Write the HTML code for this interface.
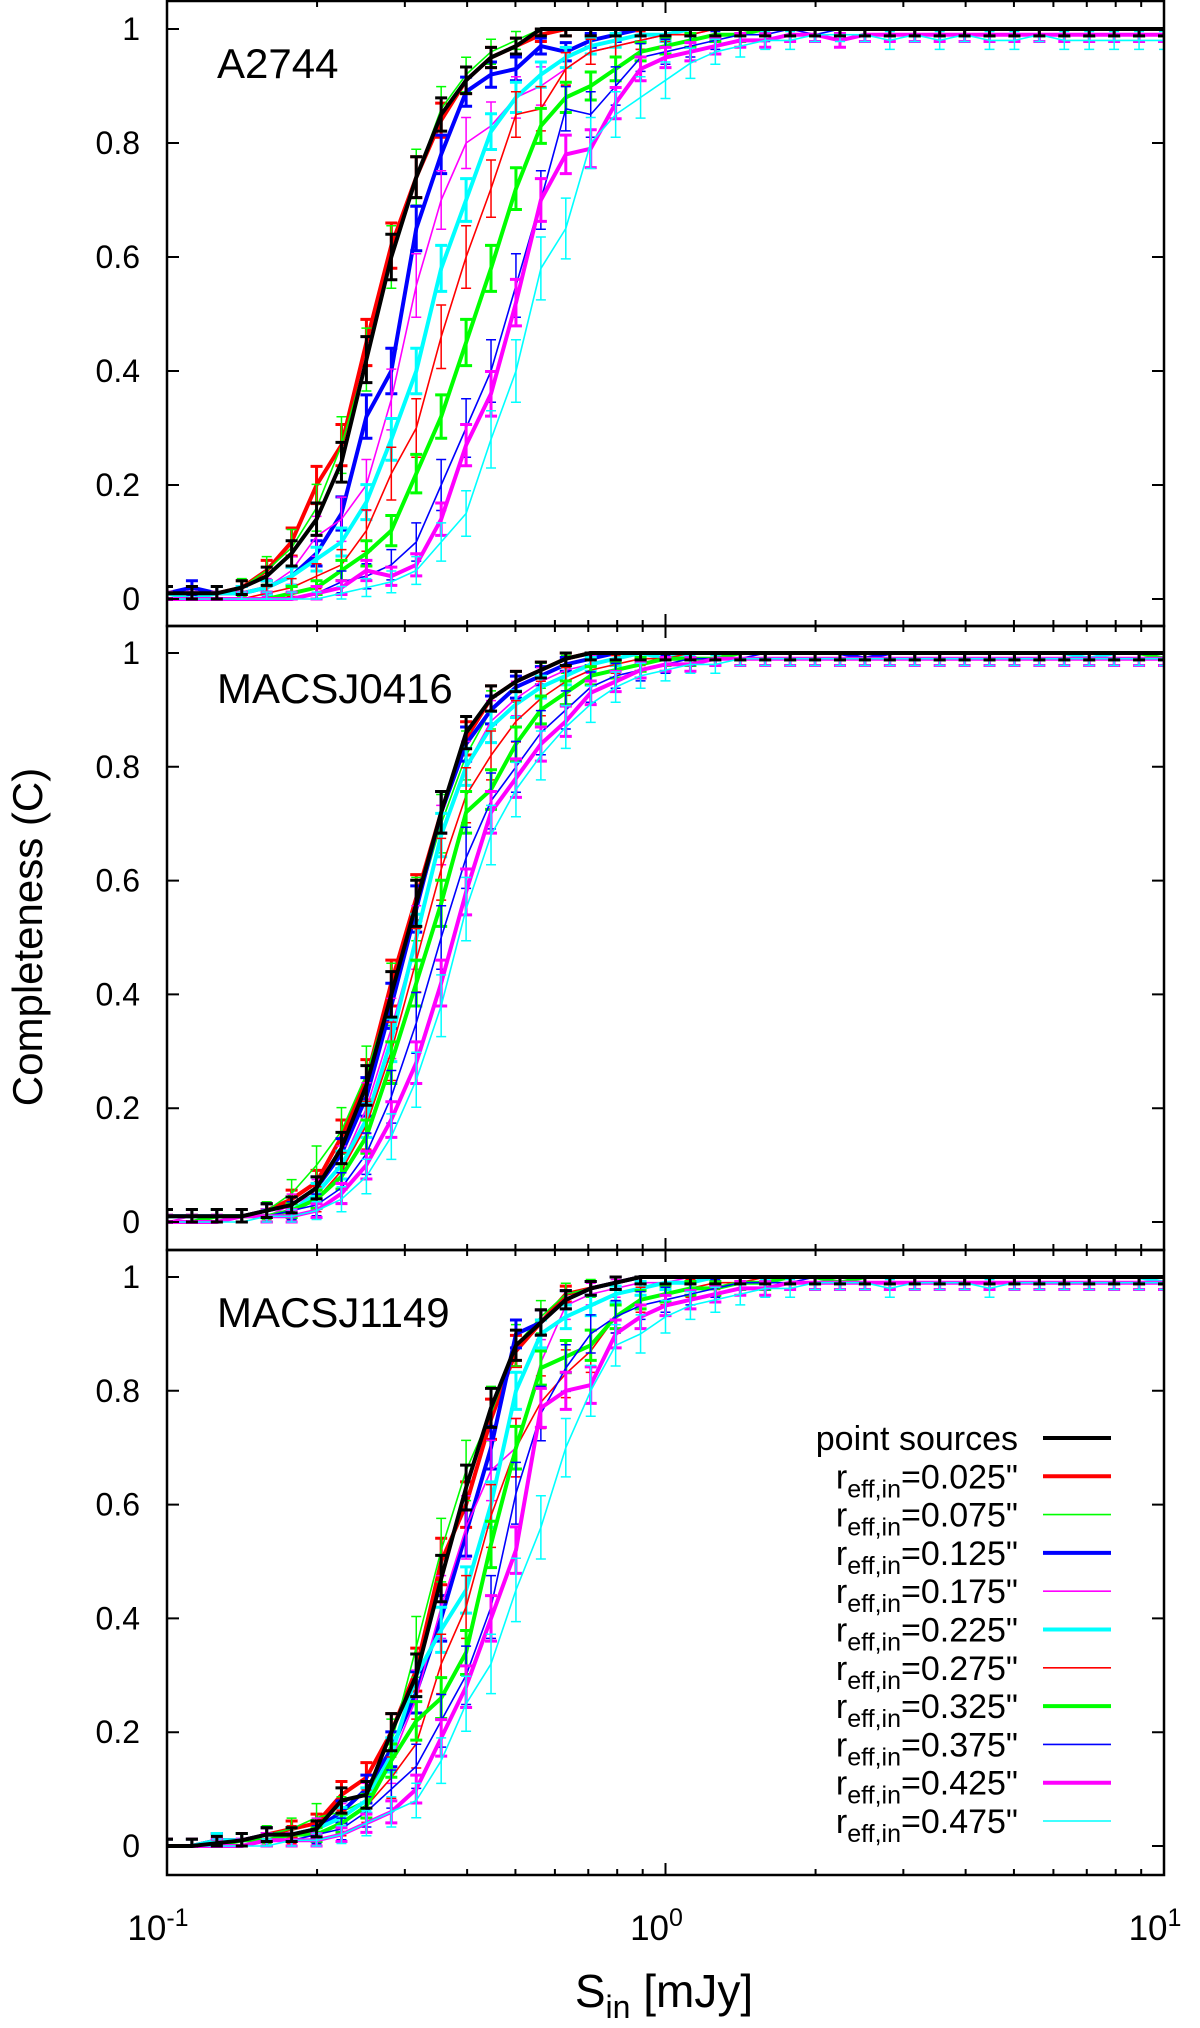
<!DOCTYPE html>
<html><head><meta charset="utf-8"><style>
html,body{margin:0;padding:0;background:#fff;}
svg{display:block;font-family:"Liberation Sans",Arial,sans-serif;}
</style></head><body>
<svg id="chart" width="1200" height="2028" viewBox="0 0 1200 2028" xmlns="http://www.w3.org/2000/svg">
<text transform="translate(42,937) rotate(-90)" font-size="42" text-anchor="middle">Completeness (C)</text>
<text x="664" y="2007" font-size="46" text-anchor="middle">S<tspan font-size="32" dy="11">in</tspan><tspan dy="-11"> [mJy]</tspan></text>
<g id="root"></g>
</svg>
<script>
// log10(S) grid: -1 .. 1 in steps of 0.05
const logGrid = [-1,-0.95,-0.9,-0.85,-0.8,-0.75,-0.7,-0.65,-0.6,-0.55,-0.5,-0.45,-0.4,-0.35,-0.3,-0.25,-0.2,-0.15,-0.1,-0.05,0,0.05,0.1,0.15,0.2,0.25,0.3,0.35,0.4,0.45,0.5,0.55,0.6,0.65,0.7,0.75,0.8,0.85,0.9,0.95,1];
const seriesLabels = ['point sources','0.025','0.075','0.125','0.175','0.225','0.275','0.325','0.375','0.425','0.475'];
const panelNames = ['A2744','MACSJ0416','MACSJ1149'];
const yTicks = [0,0.2,0.4,0.6,0.8,1];
const yTickLabels = ['0','0.2','0.4','0.6','0.8','1'];
const xMajor = [-1,0,1];
const xMajorLabels = ['-1','0','1'];

// Panel 1: A2744
const p1_ps   = [0.01,0.01,0.01,0.02,0.04,0.08,0.14,0.24,0.42,0.60,0.74,0.85,0.91,0.95,0.97,1,1,1,1,1, 1,1,1,1,1,1,1,1,1,1,1,1,1,1,1,1,1,1,1,1,1];
const p1_025  = [0.01,0.01,0.01,0.02,0.05,0.10,0.20,0.27,0.45,0.62,0.74,0.84,0.91,0.95,0.97,0.99,1,1,1,1, 1,1,1,1,1,1,1,1,1,1,1,1,1,1,1,1,1,1,1,1,1];
const p1_075  = [0.01,0.01,0.01,0.02,0.05,0.09,0.16,0.27,0.42,0.60,0.74,0.86,0.92,0.96,0.98,1,1,1,1,1, 1,1,1,1,1,1,1,1,1,1,1,1,1,1,1,1,1,1,1,1,1];
const p1_125  = [0.01,0.02,0.01,0.01,0.02,0.04,0.08,0.15,0.32,0.40,0.65,0.78,0.89,0.92,0.93,0.97,0.96,0.98,0.99,1, 1,1,1,1,1,1,1,1,1,1,1,1,1,1,1,1,1,1,1,1,1];
const p1_175  = [0.01,0.01,0.01,0.01,0.02,0.05,0.11,0.14,0.20,0.35,0.55,0.70,0.80,0.83,0.88,0.90,0.93,0.96,0.97,0.98, 0.99,0.99,1,1,1,1,1,1,1,1,1,1,1,1,1,1,1,1,1,1,1];
const p1_225  = [0.01,0,0.01,0.01,0.02,0.04,0.07,0.10,0.17,0.28,0.40,0.58,0.70,0.82,0.88,0.92,0.95,0.97,0.98,0.99, 0.99,1,1,1,1,1,1,1,1,1,1,1,1,1,1,1,1,1,1,1,1];
const p1_275  = [0,0,0,0,0.01,0.02,0.04,0.06,0.12,0.22,0.30,0.46,0.60,0.72,0.85,0.86,0.93,0.96,0.97,0.98, 0.99,0.99,1,1,1,1,1,1,1,1,1,1,1,1,1,1,1,1,1,1,1];
const p1_325  = [0,0,0,0,0,0.01,0.02,0.05,0.08,0.12,0.22,0.32,0.45,0.58,0.72,0.83,0.88,0.90,0.93,0.96, 0.97,0.98,0.99,0.99,1,1,1,1,1,1,1,1,1,1,1,1,1,1,1,1,1];
const p1_375  = [0,0,0,0,0,0,0.01,0.03,0.04,0.06,0.10,0.20,0.30,0.40,0.55,0.70,0.86,0.85,0.90,0.95, 0.96,0.97,0.98,0.99,0.99,1,0.99,1,1,1,1,1,1,1,1,1,1,1,1,1,1];
const p1_425  = [0,0,0,0,0,0,0.01,0.02,0.05,0.04,0.06,0.14,0.27,0.36,0.52,0.70,0.78,0.79,0.87,0.93, 0.95,0.96,0.97,0.98,0.98,0.99,0.99,0.98,0.99,0.99,0.99,0.99,0.99,0.99,0.99,0.99,0.99,0.99,0.99,0.99,0.99];
const p1_475  = [0,0,0,0,0,0,0,0.01,0.02,0.03,0.05,0.10,0.15,0.28,0.40,0.58,0.65,0.80,0.85,0.88, 0.91,0.94,0.96,0.97,0.98,0.98,0.99,0.99,0.99,0.98,0.99,0.98,0.99,0.98,0.98,0.99,0.98,0.98,0.98,0.98,0.98];

// Panel 2: MACSJ0416
const p2_ps   = [0.01,0.01,0.01,0.01,0.02,0.03,0.06,0.13,0.24,0.40,0.56,0.72,0.86,0.92,0.95,0.97,0.99,1,1,1, 1,1,1,1,1,1,1,1,1,1,1,1,1,1,1,1,1,1,1,1,1];
const p2_025  = [0.01,0.01,0.01,0.01,0.02,0.04,0.07,0.15,0.25,0.42,0.57,0.72,0.85,0.92,0.95,0.97,0.99,1,1,1, 1,1,1,1,1,1,1,1,1,1,1,1,1,1,1,1,1,1,1,1,1];
const p2_075  = [0.01,0.01,0.01,0.01,0.02,0.05,0.10,0.16,0.26,0.40,0.55,0.70,0.82,0.90,0.94,0.96,0.98,0.99,1,1, 1,1,1,1,1,1,1,1,1,1,1,1,1,1,1,1,1,1,1,1,1];
const p2_125  = [0.01,0.01,0.01,0.01,0.02,0.03,0.06,0.12,0.22,0.38,0.55,0.72,0.84,0.90,0.94,0.96,0.98,0.99,1,1, 1,1,1,1,1,1,1,1,0.99,1,1,1,1,1,1,1,1,1,1,1,1];
const p2_175  = [0,0.01,0.01,0.01,0.01,0.03,0.05,0.10,0.20,0.34,0.50,0.68,0.80,0.88,0.92,0.95,0.97,0.98,0.99,1, 1,1,1,1,1,1,1,1,1,1,1,1,1,1,1,1,1,1,1,1,1];
const p2_225  = [0.01,0.01,0.01,0.01,0.01,0.02,0.05,0.10,0.18,0.32,0.50,0.68,0.80,0.87,0.91,0.94,0.96,0.98,0.99,1, 0.99,1,1,1,1,1,1,1,1,1,1,1,1,1,1,1,1,0.99,1,1,1];
const p2_275  = [0,0,0.01,0.01,0.01,0.02,0.04,0.09,0.17,0.30,0.46,0.62,0.75,0.82,0.88,0.92,0.95,0.97,0.98,0.99, 0.99,1,1,1,1,1,1,1,1,1,1,1,1,1,1,1,1,1,1,1,1];
const p2_325  = [0,0,0.01,0.01,0.01,0.02,0.04,0.08,0.15,0.28,0.42,0.56,0.72,0.76,0.84,0.90,0.93,0.96,0.97,0.98, 0.99,0.99,0.99,1,1,1,1,1,1,1,1,1,1,1,1,1,1,1,1,1,0.99];
const p2_375  = [0,0,0,0.01,0.01,0.02,0.03,0.06,0.12,0.22,0.35,0.50,0.64,0.74,0.80,0.86,0.90,0.94,0.96,0.97, 0.98,0.99,0.99,0.99,1,1,1,1,0.99,1,1,1,1,1,1,1,1,1,1,1,1];
const p2_425  = [0,0,0,0.01,0.01,0.01,0.02,0.05,0.10,0.18,0.28,0.42,0.58,0.72,0.78,0.84,0.88,0.93,0.95,0.97, 0.98,0.98,0.99,0.99,0.99,0.99,0.99,0.99,0.99,0.99,0.99,0.99,0.99,0.99,0.99,0.99,0.99,0.99,0.99,0.99,0.99];
const p2_475  = [0,0,0,0,0.01,0.01,0.02,0.04,0.08,0.15,0.25,0.38,0.55,0.68,0.76,0.82,0.87,0.91,0.94,0.96, 0.97,0.98,0.98,0.99,0.99,0.99,0.99,0.99,0.99,0.99,0.99,0.99,0.99,0.99,0.99,0.99,0.99,0.99,0.99,0.99,0.99];

// Panel 3: MACSJ1149
const p3_ps   = [0,0,0.005,0.01,0.02,0.02,0.03,0.08,0.09,0.20,0.30,0.47,0.63,0.77,0.88,0.92,0.96,0.98,0.99,1, 1,1,1,1,1,1,1,1,1,1,1,1,1,1,1,1,1,1,1,1,1];
const p3_025  = [0,0,0.01,0.01,0.02,0.03,0.04,0.09,0.12,0.20,0.31,0.50,0.60,0.75,0.87,0.92,0.97,0.98,0.99,1, 1,1,1,1,1,1,1,1,1,1,1,1,1,1,1,1,1,1,1,1,1];
const p3_075  = [0,0,0.01,0.01,0.02,0.03,0.05,0.06,0.08,0.18,0.35,0.52,0.66,0.76,0.88,0.93,0.97,0.98,0.99,1, 1,1,1,1,1,1,1,1,1,1,1,1,1,1,1,1,1,1,1,1,1];
const p3_125  = [0,0,0.01,0.01,0.02,0.02,0.03,0.06,0.10,0.17,0.27,0.40,0.55,0.70,0.90,0.92,0.96,0.98,0.99,1, 1,1,1,1,1,1,1,1,1,1,1,1,1,1,1,1,1,1,1,1,1];
const p3_175  = [0,0,0,0.01,0.01,0.02,0.03,0.05,0.08,0.15,0.26,0.42,0.56,0.66,0.70,0.85,0.95,0.97,0.98,0.99, 0.99,1,1,1,1,1,1,1,1,1,1,1,1,1,1,1,1,1,1,1,1];
const p3_225  = [0,0,0.01,0.01,0.01,0.02,0.03,0.05,0.08,0.16,0.30,0.38,0.45,0.60,0.80,0.90,0.93,0.95,0.97,0.98, 0.99,0.99,1,1,1,1,1,1,1,1,1,1,1,1,1,1,1,1,1,1,0.99];
const p3_275  = [0,0,0,0.01,0.01,0.02,0.02,0.04,0.07,0.12,0.18,0.32,0.42,0.58,0.70,0.78,0.83,0.87,0.93,0.96, 0.97,0.98,0.99,0.99,1,1,1,1,1,1,1,1,1,1,1,1,1,1,1,1,1];
const p3_325  = [0,0,0,0.01,0.01,0.02,0.02,0.04,0.07,0.15,0.22,0.26,0.34,0.53,0.70,0.84,0.86,0.88,0.93,0.96, 0.97,0.98,0.98,0.99,0.99,1,1,0.99,1,1,1,1,1,1,1,1,1,1,1,1,1];
const p3_375  = [0,0,0,0,0.01,0.01,0.02,0.03,0.06,0.10,0.14,0.22,0.30,0.42,0.62,0.76,0.84,0.90,0.93,0.95, 0.96,0.97,0.98,0.99,0.99,0.99,1,1,1,1,1,1,1,1,1,1,1,1,1,1,1];
const p3_425  = [0,0,0,0,0.01,0.01,0.01,0.02,0.04,0.06,0.10,0.19,0.28,0.40,0.52,0.77,0.80,0.81,0.90,0.93, 0.95,0.96,0.97,0.98,0.98,0.99,0.99,0.99,0.99,0.99,0.99,0.99,0.99,0.99,0.99,0.99,0.99,0.99,0.99,0.99,0.99];
const p3_475  = [0,0,0,0,0,0.01,0.01,0.02,0.04,0.06,0.08,0.15,0.25,0.32,0.45,0.56,0.70,0.80,0.88,0.90, 0.93,0.95,0.96,0.97,0.98,0.98,0.99,0.99,0.99,0.98,0.99,0.99,0.99,0.98,0.99,0.99,0.99,0.99,0.99,0.99,0.99];

const panelData = [
  [p1_ps,p1_025,p1_075,p1_125,p1_175,p1_225,p1_275,p1_325,p1_375,p1_425,p1_475],
  [p2_ps,p2_025,p2_075,p2_125,p2_175,p2_225,p2_275,p2_325,p2_375,p2_425,p2_475],
  [p3_ps,p3_025,p3_075,p3_125,p3_175,p3_225,p3_275,p3_325,p3_375,p3_425,p3_475]
];

// styles
const colors = ['#000','#f00','#0f0','#00f','#f0f','#0ff','#f00','#0f0','#00f','#f0f','#0ff'];
const widths = [4,4,1.6,4,1.6,4,1.6,4,1.6,4,1.6];

const NS='http://www.w3.org/2000/svg';
const root=document.getElementById('root');
const X0=167, X1=1164;
const panelTop=[1,626,1250], panelBot=[626,1250,1875];
const yOne=[29,653,1277], yZero=[599,1222,1846];
function xs(l){return X0+(l+1)/2*(X1-X0);}
function mk(tag,attrs,parent){const e=document.createElementNS(NS,tag);for(const k in attrs)e.setAttribute(k,attrs[k]);(parent||root).appendChild(e);return e;}

const defs=mk('defs',{});
for(let p=0;p<3;p++){
  const cp=mk('clipPath',{id:'clip'+p},defs);
  mk('rect',{x:X0,y:panelTop[p],width:X1-X0,height:panelBot[p]-panelTop[p]},cp);
}

for(let p=0;p<3;p++){
  const ys=v=>yZero[p]+(yOne[p]-yZero[p])*v;
  const g=mk('g',{});
  
  
  const sg=mk('g',{'clip-path':'url(#clip'+p+')'},g);
  const order=[1,2,3,4,5,6,7,8,9,10,0];
  for(const s of order){
    const vals=panelData[p][s];
    const ser=mk('g',{},sg);
    
    
    const N = widths[s]>2?150:80;
    const lw = widths[s]>2?3:1.5;
    const cap = widths[s]>2?6:5;
    for(let i=0;i<vals.length;i++){
      const v=vals[i];
      const e=Math.max(Math.sqrt(v*(1-v)/N),0.012);
      const x=xs(logGrid[i]);
      const lo=Math.max(v-e,0), hi=Math.min(v+e,1);
      const eb=mk('path',{d:`M${x},${ys(lo)}V${ys(hi)}M${x-cap},${ys(lo)}h${2*cap}M${x-cap},${ys(hi)}h${2*cap}`,stroke:colors[s],'stroke-width':lw,fill:'none'},ser);
      
      
    }
    let d='';
    for(let i=0;i<vals.length;i++){d+=(i?'L':'M')+xs(logGrid[i]).toFixed(1)+','+ys(vals[i]).toFixed(1);}
    const ln=mk('path',{d:d,stroke:colors[s],'stroke-width':widths[s],fill:'none','stroke-linejoin':'round'},ser);
    
    
  }
  const fr=mk('rect',{x:X0,y:panelTop[p],width:X1-X0,height:panelBot[p]-panelTop[p],fill:'none',stroke:'#000','stroke-width':2.5},g);
  
  
  for(let t=0;t<yTicks.length;t++){
    const y=ys(yTicks[t]);
    mk('path',{d:`M${X0},${y}h12M${X1},${y}h-12`,stroke:'#000','stroke-width':2},g);
    const tl=mk('text',{x:140,y:y+11,'font-size':32,'text-anchor':'end'},g);
    tl.textContent=yTickLabels[t];
    
    
  }
  for(let dec=-1;dec<1;dec++){
    for(let m=1;m<10;m++){
      const l=dec+Math.log10(m);
      const x=xs(l);
      const len=m===1?12:6;
      mk('path',{d:`M${x},${panelTop[p]}v${len}M${x},${panelBot[p]}v${-len}`,stroke:'#000','stroke-width':2},g);
    }
  }
  const xr=xs(1);
  mk('path',{d:`M${xr},${panelTop[p]}v12M${xr},${panelBot[p]}v-12`,stroke:'#000','stroke-width':2},g);
  const nm=mk('text',{x:217,y:78+panelTop[p]-1,'font-size':42},g);
  nm.textContent=panelNames[p];
  
  
}

for(let k=0;k<xMajor.length;k++){
  const t=mk('text',{x:xs(xMajor[k])-9,y:1940,'font-size':35,'text-anchor':'middle'});
  
  
  const a=mk('tspan',{},t);a.textContent='10';
  const b=mk('tspan',{'font-size':25,dy:-14},t);b.textContent=xMajorLabels[k];
}

const lg=mk('g',{});


for(let s=0;s<seriesLabels.length;s++){
  const yl=1438+s*38.3;
  const ent=mk('g',{},lg);
  
  
  const t=mk('text',{x:1018,y:yl+12,'font-size':34,'text-anchor':'end'},ent);
  if(s===0){t.textContent='point sources';}
  else{
    const a=mk('tspan',{},t);a.textContent='r';
    const b=mk('tspan',{'font-size':25,dy:9},t);b.textContent='eff,in';
    const c=mk('tspan',{dy:-9},t);c.textContent='='+seriesLabels[s]+'"';
  }
  mk('line',{x1:1043,x2:1111,y1:yl,y2:yl,stroke:colors[s],'stroke-width':widths[s]},ent);
}
</script>
</body></html>
